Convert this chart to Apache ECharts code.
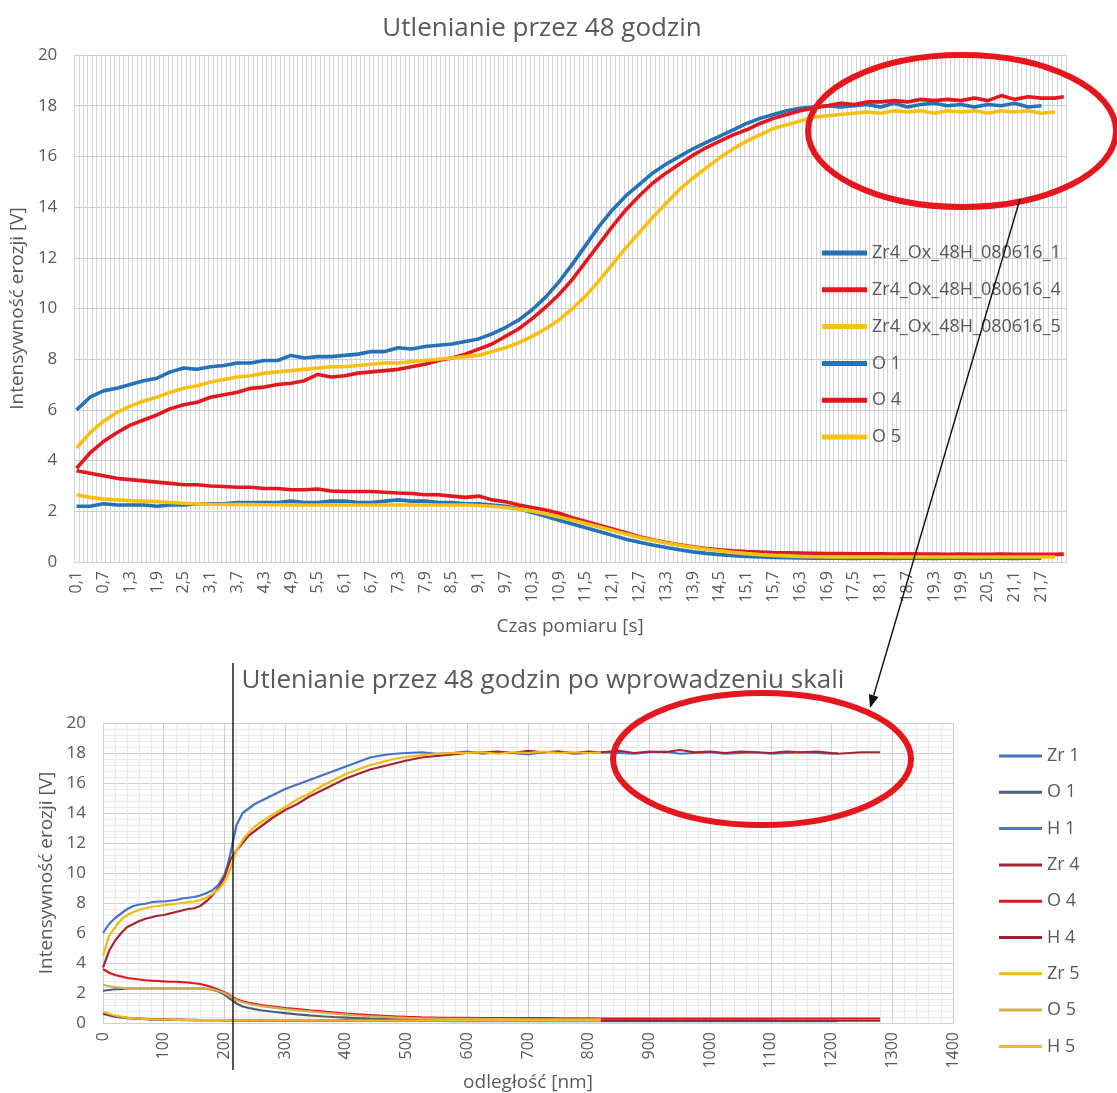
<!DOCTYPE html>
<html><head><meta charset="utf-8">
<script src="https://cdn.jsdelivr.net/npm/echarts@6/dist/echarts.min.js"></script>
<style>html,body{margin:0;padding:0;background:#fff}#c{width:1117px;height:1093px}</style>
</head><body><div id="c"></div>
<script>
// ---------- TOP CHART DATA ----------
const timeCats = ('0,1 0,2 0,3 0,4 0,5 0,6 0,7 0,8 0,9 1 ' +
'1,1 1,2 1,3 1,4 1,5 1,6 1,7 1,8 1,9 2 ' +
'2,1 2,2 2,3 2,4 2,5 2,6 2,7 2,8 2,9 3 ' +
'3,1 3,2 3,3 3,4 3,5 3,6 3,7 3,8 3,9 4 ' +
'4,1 4,2 4,3 4,4 4,5 4,6 4,7 4,8 4,9 5 ' +
'5,1 5,2 5,3 5,4 5,5 5,6 5,7 5,8 5,9 6 ' +
'6,1 6,2 6,3 6,4 6,5 6,6 6,7 6,8 6,9 7 ' +
'7,1 7,2 7,3 7,4 7,5 7,6 7,7 7,8 7,9 8 ' +
'8,1 8,2 8,3 8,4 8,5 8,6 8,7 8,8 8,9 9 ' +
'9,1 9,2 9,3 9,4 9,5 9,6 9,7 9,8 9,9 10 ' +
'10,1 10,2 10,3 10,4 10,5 10,6 10,7 10,8 10,9 11 ' +
'11,1 11,2 11,3 11,4 11,5 11,6 11,7 11,8 11,9 12 ' +
'12,1 12,2 12,3 12,4 12,5 12,6 12,7 12,8 12,9 13 ' +
'13,1 13,2 13,3 13,4 13,5 13,6 13,7 13,8 13,9 14 ' +
'14,1 14,2 14,3 14,4 14,5 14,6 14,7 14,8 14,9 15 ' +
'15,1 15,2 15,3 15,4 15,5 15,6 15,7 15,8 15,9 16 ' +
'16,1 16,2 16,3 16,4 16,5 16,6 16,7 16,8 16,9 17 ' +
'17,1 17,2 17,3 17,4 17,5 17,6 17,7 17,8 17,9 18 ' +
'18,1 18,2 18,3 18,4 18,5 18,6 18,7 18,8 18,9 19 ' +
'19,1 19,2 19,3 19,4 19,5 19,6 19,7 19,8 19,9 20 ' +
'20,1 20,2 20,3 20,4 20,5 20,6 20,7 20,8 20,9 21 ' +
'21,1 21,2 21,3 21,4 21,5 21,6 21,7 21,8 21,9 22 ' +
'22,1 22,2').split(' ');

const sampleTimes = ['0,1','0,4','0,7','1','1,3','1,6','1,9','2,2','2,5','2,8',
'3,1','3,4','3,7','4','4,3','4,6','4,9','5,2','5,5','5,8',
'6,1','6,4','6,7','7','7,3','7,6','7,9','8,2','8,5','8,8',
'9,1','9,4','9,7','10','10,3','10,6','10,9','11,2','11,5','11,8',
'12,1','12,4','12,7','13','13,3','13,6','13,9','14,2','14,5','14,8',
'15,1','15,4','15,7','16','16,3','16,6','16,9','17,2','17,5','17,8',
'18,1','18,4','18,7','19','19,3','19,6','19,9','20,2','20,5','20,8',
'21,1','21,4','21,7','22','22,2'];

const topNames = ['Zr4_Ox_48H_080616_1','Zr4_Ox_48H_080616_4','Zr4_Ox_48H_080616_5','O 1','O 4','O 5'];

const zr1Top = [6.0,6.5,6.75,6.85,7.0,7.15,7.25,7.5,7.65,7.6,
7.7,7.75,7.85,7.85,7.95,7.95,8.15,8.05,8.1,8.1,
8.15,8.2,8.3,8.3,8.45,8.4,8.5,8.55,8.6,8.7,
8.8,9.0,9.25,9.55,9.95,10.45,11.05,11.75,12.5,13.25,
13.9,14.45,14.9,15.35,15.7,16.0,16.3,16.55,16.8,17.05,
17.3,17.5,17.65,17.8,17.9,17.95,18.0,17.95,18.0,18.05,
17.95,18.1,17.95,18.05,18.1,18.0,18.05,17.95,18.05,18.0,
18.1,17.95,18.0];
const zr4Top = [3.7,4.3,4.75,5.1,5.4,5.6,5.8,6.05,6.2,6.3,
6.5,6.6,6.7,6.85,6.9,7.0,7.05,7.15,7.4,7.3,
7.35,7.45,7.5,7.55,7.6,7.7,7.8,7.95,8.05,8.2,
8.4,8.6,8.9,9.2,9.6,10.05,10.55,11.15,11.85,12.55,
13.25,13.9,14.45,14.95,15.35,15.7,16.05,16.35,16.6,16.85,
17.05,17.3,17.5,17.65,17.8,17.9,18.0,18.1,18.05,18.15,
18.15,18.2,18.15,18.25,18.2,18.25,18.2,18.3,18.2,18.4,
18.25,18.35,18.3,18.3,18.35];
const zr5Top = [4.5,5.1,5.55,5.9,6.15,6.35,6.5,6.7,6.85,6.95,
7.1,7.2,7.3,7.35,7.45,7.5,7.55,7.6,7.65,7.7,
7.7,7.75,7.8,7.85,7.85,7.9,7.95,8.0,8.05,8.1,
8.15,8.3,8.45,8.65,8.9,9.2,9.55,10.0,10.5,11.1,
11.75,12.4,13.0,13.6,14.15,14.7,15.15,15.55,15.95,16.3,
16.6,16.85,17.1,17.25,17.4,17.55,17.6,17.65,17.7,17.75,
17.7,17.8,17.75,17.8,17.7,17.8,17.75,17.8,17.7,17.8,
17.75,17.8,17.7,17.75];
const o1Top = [2.2,2.2,2.3,2.25,2.25,2.25,2.2,2.25,2.25,2.3,
2.3,2.3,2.35,2.35,2.35,2.35,2.4,2.35,2.35,2.4,
2.4,2.35,2.35,2.4,2.45,2.4,2.4,2.35,2.35,2.3,
2.3,2.25,2.2,2.1,1.95,1.8,1.65,1.5,1.35,1.2,
1.05,0.9,0.78,0.67,0.57,0.48,0.4,0.34,0.29,0.25,
0.22,0.2,0.18,0.17,0.16,0.15,0.15,0.15,0.14,0.15,
0.15,0.14,0.15,0.15,0.14,0.15,0.15,0.14,0.15,0.15,
0.14,0.15,0.15];
const o4Top = [3.6,3.5,3.4,3.3,3.25,3.2,3.15,3.1,3.05,3.05,
3.0,2.98,2.95,2.95,2.9,2.9,2.85,2.85,2.88,2.8,
2.78,2.78,2.78,2.75,2.72,2.7,2.65,2.65,2.6,2.55,
2.6,2.45,2.38,2.25,2.15,2.05,1.92,1.75,1.6,1.45,
1.3,1.15,1.0,0.88,0.77,0.68,0.6,0.53,0.48,0.44,
0.41,0.39,0.37,0.36,0.35,0.34,0.33,0.33,0.32,0.32,
0.32,0.31,0.32,0.31,0.31,0.3,0.31,0.3,0.3,0.31,
0.3,0.3,0.3,0.3,0.31];
const o5Top = [2.65,2.55,2.48,2.45,2.42,2.4,2.38,2.35,2.32,2.3,
2.28,2.27,2.27,2.27,2.26,2.26,2.25,2.25,2.25,2.25,
2.25,2.25,2.25,2.25,2.25,2.25,2.25,2.25,2.25,2.25,
2.23,2.2,2.15,2.08,2.0,1.9,1.78,1.65,1.52,1.38,
1.24,1.1,0.97,0.86,0.75,0.66,0.58,0.5,0.44,0.38,
0.33,0.29,0.26,0.24,0.22,0.21,0.2,0.2,0.2,0.2,
0.2,0.2,0.2,0.2,0.2,0.2,0.2,0.2,0.2,0.2,
0.2,0.2,0.2,0.2];

// ---------- BOTTOM CHART DATA ----------
const nmGrid = [0,10,20,30,40,50,60,70,80,90,
100,110,120,130,140,150,160,170,180,190,
200,205,210,215,220,230,240,250,260,280,
300,320,340,360,380,400,420,440,460,480,
500,525,550,575,600,625,650,675,700,725,
750,775,800,820,850,875,900,925,950,975,
1000,1025,1050,1075,1100,1125,1150,1175,1200,1210,
1230,1250,1280];

const botNames = ['Zr 1','O 1 ','H 1','Zr 4','O 4 ','H 4','Zr 5','O 5 ','H 5'];

const zr1Bot = [6.0,6.6,7.0,7.3,7.6,7.8,7.9,7.95,8.05,8.1,
8.1,8.15,8.2,8.3,8.35,8.4,8.5,8.65,8.85,9.2,
9.9,10.5,11.3,12.3,13.2,14.0,14.3,14.6,14.8,15.2,
15.6,15.9,16.2,16.5,16.8,17.1,17.4,17.7,17.85,17.95,
18.0,18.05,17.95,18.0,18.1,17.95,18.05,18.0,17.9,18.05,
18.1,17.95,18.0,18.05,18.0,17.95,18.05,18.1,17.95,18.0,
18.05,17.95,18.0,18.05,17.95,18.0,18.05,18.0,17.95,18.0];
const o1Bot = [2.15,2.2,2.25,2.25,2.3,2.3,2.3,2.3,2.3,2.3,
2.3,2.3,2.3,2.3,2.3,2.3,2.3,2.28,2.22,2.1,
1.9,1.75,1.6,1.45,1.3,1.1,1.0,0.92,0.85,0.75,
0.66,0.58,0.51,0.45,0.4,0.36,0.32,0.29,0.27,0.25,
0.23,0.22,0.21,0.2,0.2,0.19,0.19,0.18,0.18,0.18,
0.18,0.17,0.17,0.17,0.17,0.17,0.17,0.16,0.16,0.16,
0.16,0.16,0.16,0.16,0.16,0.15,0.15,0.15,0.15,0.15];
const h1Bot = [0.6,0.5,0.42,0.36,0.32,0.29,0.27,0.25,0.23,0.22,
0.21,0.2,0.2,0.19,0.19,0.18,0.18,0.18,0.17,0.17,
0.17,0.17,0.17,0.16,0.16,0.16,0.16,0.16,0.16,0.15,
0.15,0.15,0.15,0.15,0.15,0.14,0.14,0.14,0.14,0.14,
0.14,0.14,0.14,0.13,0.13,0.13,0.13,0.13,0.13,0.13,
0.13,0.13,0.13,0.13,0.13,0.13,0.13,0.13,0.13,0.13,
0.13,0.13,0.13,0.13,0.13,0.13,0.13,0.13,0.13,0.13];
const zr4Bot = [3.7,4.8,5.5,6.0,6.4,6.6,6.8,6.95,7.05,7.15,
7.2,7.3,7.4,7.5,7.6,7.65,7.8,8.1,8.5,9.0,
9.7,10.3,10.9,11.2,11.5,12.0,12.5,12.8,13.1,13.7,
14.2,14.6,15.1,15.5,15.9,16.3,16.6,16.9,17.1,17.3,
17.5,17.7,17.8,17.9,18.0,18.05,18.1,18.0,18.15,18.05,
18.1,18.0,18.1,18.05,18.15,18.0,18.1,18.05,18.2,18.05,
18.1,18.0,18.1,18.05,18.0,18.1,18.05,18.1,18.0,17.95,
18.0,18.05,18.05];
const o4Bot = [3.6,3.35,3.2,3.1,3.0,2.95,2.9,2.85,2.82,2.8,
2.78,2.75,2.75,2.72,2.7,2.65,2.6,2.5,2.38,2.22,
2.05,1.95,1.8,1.68,1.58,1.45,1.35,1.28,1.2,1.1,
1.0,0.92,0.84,0.77,0.7,0.63,0.57,0.52,0.48,0.44,
0.41,0.38,0.36,0.35,0.34,0.33,0.33,0.32,0.32,0.32,
0.31,0.31,0.31,0.3,0.3,0.3,0.3,0.3,0.3,0.3,
0.3,0.3,0.3,0.3,0.3,0.3,0.3,0.3,0.3,0.3,
0.3,0.3,0.3];
const h4Bot = [0.65,0.55,0.46,0.4,0.35,0.32,0.3,0.28,0.26,0.25,
0.24,0.23,0.22,0.22,0.21,0.21,0.2,0.2,0.2,0.2,
0.19,0.19,0.19,0.19,0.19,0.18,0.18,0.18,0.18,0.18,
0.17,0.17,0.17,0.17,0.17,0.17,0.16,0.16,0.16,0.16,
0.16,0.16,0.16,0.16,0.16,0.15,0.15,0.15,0.15,0.15,
0.15,0.15,0.15,0.15,0.15,0.15,0.15,0.15,0.15,0.15,
0.15,0.15,0.15,0.15,0.15,0.15,0.15,0.15,0.15,0.15,
0.15,0.15,0.15];
const zr5Bot = [4.5,5.8,6.4,6.9,7.2,7.4,7.55,7.65,7.75,7.8,
7.85,7.9,7.95,8.0,8.05,8.1,8.2,8.35,8.6,8.9,
9.4,9.8,10.3,10.9,11.5,12.2,12.7,13.1,13.4,13.9,
14.4,14.9,15.3,15.8,16.2,16.6,16.9,17.2,17.4,17.6,
17.75,17.85,17.95,18.0,18.0,18.05,17.95,18.05,18.0,18.1,
18.0,18.05,18.0,18.05];
const o5Bot = [2.55,2.45,2.4,2.35,2.3,2.3,2.3,2.3,2.3,2.3,
2.3,2.3,2.3,2.3,2.3,2.3,2.3,2.28,2.24,2.14,
2.0,1.88,1.75,1.63,1.52,1.38,1.28,1.2,1.13,1.02,
0.93,0.85,0.77,0.7,0.63,0.56,0.5,0.45,0.41,0.37,
0.34,0.31,0.29,0.28,0.27,0.26,0.26,0.26,0.25,0.25,
0.25,0.25,0.25,0.25];
const h5Bot = [0.75,0.62,0.5,0.42,0.36,0.32,0.29,0.27,0.25,0.24,
0.23,0.22,0.21,0.21,0.2,0.2,0.2,0.19,0.19,0.19,
0.19,0.19,0.18,0.18,0.18,0.18,0.18,0.18,0.17,0.17,
0.17,0.17,0.17,0.17,0.17,0.16,0.16,0.16,0.16,0.16,
0.16,0.16,0.16,0.16,0.16,0.16,0.16,0.16,0.16,0.16,
0.16,0.16,0.16,0.16];

// ---------- STYLE ----------
const FONT = 'Open Sans';
const TXT = '#595959';
const topColors = ['#2472B8','#E2171F','#F7C014','#2472B8','#E2171F','#F7C014'];
const botColors = ['#4472C4','#4D5C7A','#4A79CC','#A52530','#E3141C','#A3212C','#F6B913','#D2B14C','#F2B726'];

function topSeries(name, vals, color) {
  return {
    name, type: 'line', xAxisIndex: 0, yAxisIndex: 0,
    data: vals.map((v, i) => [timeCats.indexOf(sampleTimes[i]), v]),
    showSymbol: false, symbol: 'none', smooth: false,
    lineStyle: { width: 3.6, color }, itemStyle: { color }
  };
}
function botSeries(name, vals, color) {
  return {
    name, type: 'line', xAxisIndex: 1, yAxisIndex: 1,
    data: vals.map((v, i) => [nmGrid[i], v]),
    showSymbol: false, symbol: 'none',
    lineStyle: { width: 2.2, color }, itemStyle: { color }
  };
}

const topVals = [zr1Top, zr4Top, zr5Top, o1Top, o4Top, o5Top];
const botVals = [zr1Bot, o1Bot, h1Bot, zr4Bot, o4Bot, h4Bot, zr5Bot, o5Bot, h5Bot];

const series = [];
topNames.forEach((n, i) => series.push(topSeries(n, topVals[i], topColors[i])));
botNames.forEach((n, i) => series.push(botSeries(n, botVals[i], botColors[i])));

// arrow geometry (annotation)
const ax1 = 1020, ay1 = 199, ax2 = 870, ay2 = 708;
const dl = Math.hypot(ax2 - ax1, ay2 - ay1);
const ux = (ax2 - ax1) / dl, uy = (ay2 - ay1) / dl;
const bx = ax2 - 13 * ux, by = ay2 - 13 * uy;
const head = [[ax2, ay2], [bx + 5 * uy, by - 5 * ux], [bx - 5 * uy, by + 5 * ux]];

const chart = echarts.init(document.getElementById('c'), null, { renderer: 'canvas' });
chart.setOption({
  animation: false,
  backgroundColor: '#fff',
  textStyle: { fontFamily: FONT },
  title: [
    { text: 'Utlenianie przez 48 godzin', left: 542, top: 16, padding: 0, textAlign: 'center',
      textStyle: { fontFamily: FONT, fontSize: 26, fontWeight: 'normal', color: TXT } },
    { text: 'Utlenianie przez 48 godzin po wprowadzeniu skali', left: 543, top: 668, padding: 0, textAlign: 'center',
      textStyle: { fontFamily: FONT, fontSize: 26, fontWeight: 'normal', color: TXT } }
  ],
  legend: [
    { data: topNames, orient: 'vertical', left: 822, top: 243, padding: 0,
      itemWidth: 45, itemHeight: 5, itemGap: 16.8, icon: 'rect', selectedMode: false,
      textStyle: { fontFamily: FONT, fontSize: 18, color: TXT, lineHeight: 20 } },
    { data: botNames.map(n => ({ name: n })), orient: 'vertical', left: 999, top: 746, padding: 0,
      itemWidth: 43, itemHeight: 3, itemGap: 16.3, icon: 'rect', selectedMode: false,
      formatter: n => n.trim(),
      textStyle: { fontFamily: FONT, fontSize: 18, color: TXT, lineHeight: 20 } }
  ],
  grid: [
    { left: 73, top: 55, width: 993, height: 507 },
    { left: 103, top: 723, width: 850, height: 300 }
  ],
  xAxis: [
    { type: 'category', gridIndex: 0, data: timeCats, boundaryGap: true,
      axisTick: { show: false },
      axisLine: { lineStyle: { color: '#d4d4d4' } },
      axisLabel: { interval: 5, rotate: 90, fontSize: 16, color: TXT, margin: 9, fontFamily: FONT },
      splitLine: { show: true, interval: 0, lineStyle: { color: '#d4d4d4', width: 1 } },
      name: 'Czas pomiaru [s]', nameLocation: 'middle', nameGap: 55,
      nameTextStyle: { fontFamily: FONT, fontSize: 19, color: TXT } },
    { type: 'value', gridIndex: 1, min: 0, max: 1400, interval: 100,
      axisTick: { show: false },
      axisLine: { show: true, lineStyle: { color: '#d0d0d0' } },
      axisLabel: { rotate: 90, fontSize: 16, color: TXT, margin: 9, fontFamily: FONT,
                   formatter: v => String(v) },
      splitLine: { show: true, lineStyle: { color: '#cfcfcf' } },
      minorTick: { show: false, splitNumber: 5 },
      minorSplitLine: { show: true, lineStyle: { color: '#e8e8e8' } },
      name: 'odległość [nm]', nameLocation: 'middle', nameGap: 50,
      nameTextStyle: { fontFamily: FONT, fontSize: 19, color: TXT } }
  ],
  yAxis: [
    { type: 'value', gridIndex: 0, min: 0, max: 20, interval: 2,
      axisLine: { show: false }, axisTick: { show: false },
      axisLabel: { fontSize: 17, color: TXT, margin: 17, fontFamily: FONT },
      splitLine: { lineStyle: { color: '#cccccc' } },
      name: 'Intensywność erozji [V]', nameLocation: 'middle', nameGap: 44,
      nameTextStyle: { fontFamily: FONT, fontSize: 19, color: TXT } },
    { type: 'value', gridIndex: 1, min: 0, max: 20, interval: 2,
      axisLine: { show: false }, axisTick: { show: false },
      axisLabel: { fontSize: 17, color: TXT, margin: 17, fontFamily: FONT },
      splitLine: { lineStyle: { color: '#cfcfcf' } },
      minorTick: { show: false, splitNumber: 5 },
      minorSplitLine: { show: true, lineStyle: { color: '#e8e8e8' } },
      name: 'Intensywność erozji [V]', nameLocation: 'middle', nameGap: 45,
      nameTextStyle: { fontFamily: FONT, fontSize: 19, color: TXT } }
  ],
  series,
  graphic: [
    { type: 'ellipse', z: 100, shape: { cx: 962, cy: 131, rx: 154, ry: 76 },
      style: { fill: 'none', stroke: '#E5161C', lineWidth: 6 } },
    { type: 'ellipse', z: 100, shape: { cx: 762, cy: 759, rx: 149, ry: 66 },
      style: { fill: 'none', stroke: '#E5161C', lineWidth: 6 } },
    { type: 'line', z: 100, shape: { x1: ax1, y1: ay1, x2: bx, y2: by },
      style: { stroke: '#111', lineWidth: 1.4 } },
    { type: 'polygon', z: 100, shape: { points: head }, style: { fill: '#111' } },
    { type: 'line', z: 100, shape: { x1: 233, y1: 663, x2: 233, y2: 1070 },
      style: { stroke: '#111', lineWidth: 1.4 } }
  ]
});
</script></body></html>
